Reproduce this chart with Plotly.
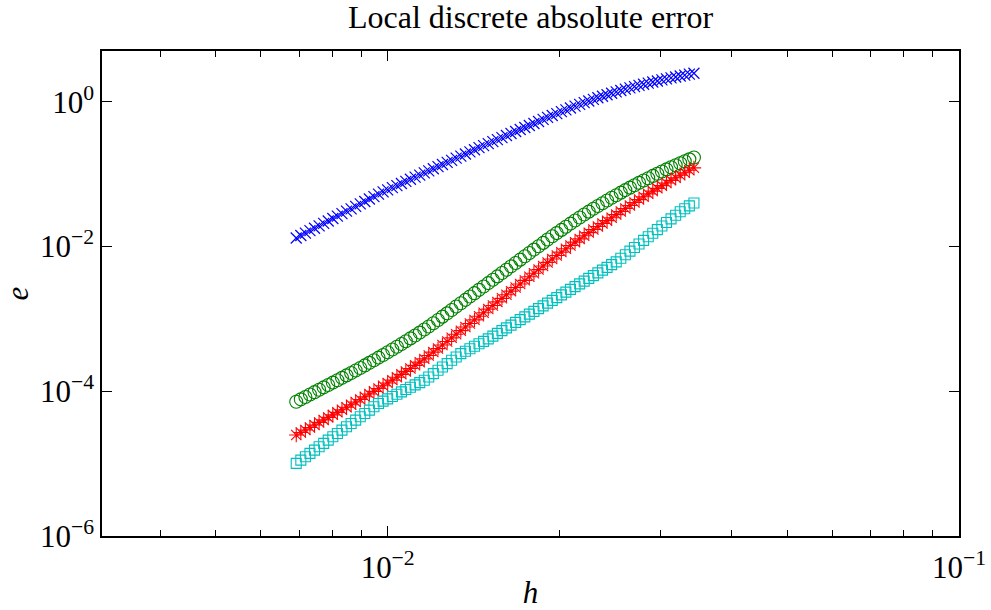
import plotly.graph_objects as go

# step size h (grid values)
h = [0.006918, 0.007047, 0.007178, 0.007311, 0.007447, 0.007586, 0.007727, 0.007870, 0.008017, 0.008166,
     0.008318, 0.008472, 0.008630, 0.008790, 0.008954, 0.009120, 0.009290, 0.009462, 0.009638, 0.009817,
     0.01000, 0.01019, 0.01038, 0.01057, 0.01076, 0.01096, 0.01117, 0.01138, 0.01159, 0.01180,
     0.01202, 0.01225, 0.01247, 0.01271, 0.01294, 0.01318, 0.01343, 0.01368, 0.01393, 0.01419,
     0.01445, 0.01472, 0.01500, 0.01528, 0.01556, 0.01585, 0.01614, 0.01644, 0.01675, 0.01706,
     0.01738, 0.01770, 0.01803, 0.01837, 0.01871, 0.01905, 0.01941, 0.01977, 0.02014, 0.02051,
     0.02089, 0.02128, 0.02168, 0.02208, 0.02249, 0.02291, 0.02333, 0.02377, 0.02421, 0.02466,
     0.02512, 0.02559, 0.02606, 0.02655, 0.02704, 0.02754, 0.02805, 0.02858, 0.02911, 0.02965,
     0.03020, 0.03076, 0.03133, 0.03192, 0.03251, 0.03311, 0.03373, 0.03436]

err_blue = [1.309e-2, 1.416e-2, 1.528e-2, 1.652e-2, 1.782e-2, 1.928e-2, 2.084e-2, 2.249e-2, 2.432e-2, 2.624e-2,
            2.838e-2, 3.069e-2, 3.311e-2, 3.581e-2, 3.864e-2, 4.178e-2, 4.519e-2, 4.875e-2, 5.272e-2, 5.669e-2,
            6.062e-2, 6.481e-2, 6.931e-2, 7.411e-2, 7.925e-2, 8.475e-2, 9.062e-2, 9.690e-2, 1.036e-1, 1.108e-1,
            1.185e-1, 1.267e-1, 1.354e-1, 1.448e-1, 1.549e-1, 1.656e-1, 1.771e-1, 1.894e-1, 2.025e-1, 2.165e-1,
            2.316e-1, 2.474e-1, 2.637e-1, 2.811e-1, 2.997e-1, 3.194e-1, 3.405e-1, 3.631e-1, 3.869e-1, 4.126e-1,
            4.398e-1, 4.688e-1, 4.998e-1, 5.328e-1, 5.680e-1, 6.053e-1, 6.438e-1, 6.845e-1, 7.270e-1, 7.716e-1,
            8.181e-1, 8.665e-1, 9.167e-1, 9.683e-1, 1.021, 1.076, 1.132, 1.189, 1.247, 1.307,
            1.367, 1.428, 1.490, 1.552, 1.615, 1.679, 1.741, 1.805, 1.867, 1.932,
            1.996, 2.061, 2.127, 2.193, 2.261, 2.329, 2.400, 2.473]

err_green = [7.161e-5, 7.727e-5, 8.337e-5, 8.995e-5, 9.705e-5, 1.047e-4, 1.130e-4, 1.219e-4, 1.315e-4, 1.419e-4,
             1.531e-4, 1.654e-4, 1.788e-4, 1.936e-4, 2.096e-4, 2.272e-4, 2.466e-4, 2.679e-4, 2.912e-4, 3.170e-4,
             3.451e-4, 3.763e-4, 4.107e-4, 4.484e-4, 4.901e-4, 5.365e-4, 5.875e-4, 6.457e-4, 7.112e-4, 7.852e-4,
             8.690e-4, 9.638e-4, 1.072e-3, 1.191e-3, 1.327e-3, 1.477e-3, 1.643e-3, 1.828e-3, 2.033e-3, 2.262e-3,
             2.516e-3, 2.799e-3, 3.114e-3, 3.465e-3, 3.855e-3, 4.289e-3, 4.771e-3, 5.308e-3, 5.906e-3, 6.570e-3,
             7.309e-3, 8.131e-3, 9.046e-3, 1.006e-2, 1.119e-2, 1.245e-2, 1.381e-2, 1.530e-2, 1.693e-2, 1.873e-2,
             2.067e-2, 2.279e-2, 2.511e-2, 2.759e-2, 3.026e-2, 3.313e-2, 3.625e-2, 3.956e-2, 4.314e-2, 4.697e-2,
             5.103e-2, 5.538e-2, 5.999e-2, 6.491e-2, 7.013e-2, 7.566e-2, 8.153e-2, 8.773e-2, 9.426e-2, 1.011e-1,
             1.084e-1, 1.160e-1, 1.240e-1, 1.324e-1, 1.412e-1, 1.503e-1, 1.596e-1, 1.690e-1]

err_red = [2.483e-5, 2.691e-5, 2.915e-5, 3.158e-5, 3.421e-5, 3.707e-5, 4.017e-5, 4.351e-5, 4.715e-5, 5.108e-5,
           5.534e-5, 6.002e-5, 6.516e-5, 7.083e-5, 7.702e-5, 8.386e-5, 9.138e-5, 9.965e-5, 1.088e-4, 1.189e-4,
           1.300e-4, 1.423e-4, 1.560e-4, 1.711e-4, 1.878e-4, 2.063e-4, 2.277e-4, 2.521e-4, 2.798e-4, 3.113e-4,
           3.471e-4, 3.880e-4, 4.346e-4, 4.867e-4, 5.466e-4, 6.130e-4, 6.869e-4, 7.700e-4, 8.632e-4, 9.676e-4,
           1.085e-3, 1.216e-3, 1.363e-3, 1.528e-3, 1.713e-3, 1.920e-3, 2.152e-3, 2.413e-3, 2.705e-3, 3.032e-3,
           3.398e-3, 3.809e-3, 4.270e-3, 4.787e-3, 5.366e-3, 6.016e-3, 6.719e-3, 7.494e-3, 8.348e-3, 9.288e-3,
           1.032e-2, 1.146e-2, 1.271e-2, 1.406e-2, 1.552e-2, 1.712e-2, 1.885e-2, 2.071e-2, 2.272e-2, 2.491e-2,
           2.753e-2, 3.038e-2, 3.346e-2, 3.682e-2, 4.046e-2, 4.440e-2, 4.864e-2, 5.323e-2, 5.817e-2, 6.346e-2,
           6.915e-2, 7.526e-2, 8.183e-2, 8.887e-2, 9.638e-2, 1.045e-1, 1.130e-1, 1.219e-1]

err_cyan = [1.007e-5, 1.119e-5, 1.245e-5, 1.384e-5, 1.538e-5, 1.710e-5, 1.901e-5, 2.113e-5, 2.350e-5, 2.612e-5,
            2.904e-5, 3.228e-5, 3.589e-5, 3.990e-5, 4.436e-5, 4.932e-5, 5.483e-5, 6.095e-5, 6.776e-5, 7.295e-5,
            7.852e-5, 8.453e-5, 9.099e-5, 9.795e-5, 1.054e-4, 1.135e-4, 1.222e-4, 1.315e-4, 1.416e-4, 1.574e-4,
            1.750e-4, 1.945e-4, 2.163e-4, 2.404e-4, 2.673e-4, 2.972e-4, 3.304e-4, 3.573e-4, 3.864e-4, 4.178e-4,
            4.519e-4, 4.887e-4, 5.284e-4, 5.768e-4, 6.295e-4, 6.871e-4, 7.499e-4, 8.185e-4, 8.933e-4, 9.750e-4,
            1.064e-3, 1.161e-3, 1.268e-3, 1.384e-3, 1.510e-3, 1.648e-3, 1.799e-3, 1.963e-3, 2.143e-3, 2.339e-3,
            2.553e-3, 2.786e-3, 3.041e-3, 3.319e-3, 3.622e-3, 3.954e-3, 4.315e-3, 4.710e-3, 5.140e-3, 5.610e-3,
            6.124e-3, 6.864e-3, 7.691e-3, 8.621e-3, 9.661e-3, 1.083e-2, 1.213e-2, 1.360e-2, 1.524e-2, 1.708e-2,
            1.914e-2, 2.145e-2, 2.404e-2, 2.695e-2, 3.020e-2, 3.311e-2, 3.631e-2, 3.981e-2]

x_tick_vals = [0.01, 0.1]
x_tick_text = ["10<sup>\u22122</sup>", "10<sup>\u22121</sup>"]
x_minor_vals = [0.004, 0.005, 0.006, 0.007, 0.008, 0.009,
                0.02, 0.03, 0.04, 0.05, 0.06, 0.07, 0.08, 0.09]
y_tick_vals = [1e-6, 1e-4, 1e-2, 1]
y_tick_text = ["10<sup>\u22126</sup>", "10<sup>\u22124</sup>", "10<sup>\u22122</sup>", "10<sup>0</sup>"]

FONT = "Liberation Serif"

fig = go.Figure()
fig.add_trace(go.Scatter(x=h, y=err_blue, mode="markers",
                         marker=dict(symbol="x-thin-open", size=11, color="#0000ff",
                                     line=dict(width=1.2, color="#0000ff"))))
fig.add_trace(go.Scatter(x=h, y=err_green, mode="markers",
                         marker=dict(symbol="circle-open", size=13, color="#008000",
                                     line=dict(width=1.1, color="#008000"))))
fig.add_trace(go.Scatter(x=h, y=err_red, mode="markers",
                         marker=dict(symbol="asterisk-open", size=12, color="#ff0000",
                                     line=dict(width=1.1, color="#ff0000"))))
fig.add_trace(go.Scatter(x=h, y=err_cyan, mode="markers",
                         marker=dict(symbol="square-open", size=10, color="#00bfbf",
                                     line=dict(width=1.1, color="#00bfbf"))))

fig.update_layout(
    width=991, height=610,
    margin=dict(l=102, r=32, t=51, b=74, autoexpand=False),
    paper_bgcolor="white", plot_bgcolor="white",
    showlegend=False,
    font=dict(family=FONT, size=30, color="black"),
    title=dict(text="Local discrete absolute error", x=0.5, xref="paper", xanchor="center",
               y=(610 - 17) / 610, yref="container", yanchor="middle",
               font=dict(family=FONT, size=32, color="black")),
)
fig.update_xaxes(
    type="log", range=[-2.5, -1], automargin=False,
    tickvals=x_tick_vals, ticktext=x_tick_text,
    ticks="inside", ticklen=10, tickwidth=1, tickcolor="black",
    minor=dict(tickvals=x_minor_vals, ticks="inside", ticklen=6, tickwidth=1, tickcolor="black"),
    showline=True, linecolor="black", linewidth=1.5, mirror="ticks",
    showgrid=False, zeroline=False,
    tickfont=dict(family=FONT, size=31),
    ticklabelstandoff=3,
    title=dict(text="<i>h</i>", font=dict(family=FONT, size=31), standoff=4),
)
fig.update_yaxes(
    type="log", range=[-6, 0.70], automargin=False,
    tickvals=y_tick_vals, ticktext=y_tick_text,
    ticks="inside", ticklen=10, tickwidth=1, tickcolor="black",
    showline=True, linecolor="black", linewidth=1.5, mirror="ticks",
    showgrid=False, zeroline=False,
    tickfont=dict(family=FONT, size=31),
    title=dict(text="<i>e</i>", font=dict(family=FONT, size=31), standoff=6),
)

fig.write_html("out.html", config={"displayModeBar": False},
               post_script="document.body.style.margin='0';")
